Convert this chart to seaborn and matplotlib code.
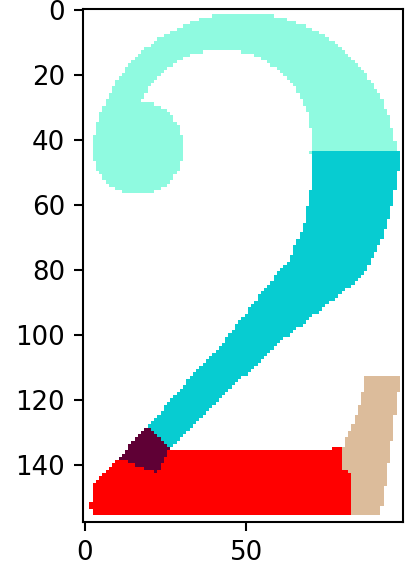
import numpy as np
import matplotlib
matplotlib.use("Agg")
import matplotlib.pyplot as plt
from matplotlib.path import Path
from matplotlib.colors import ListedColormap
import seaborn as sns

# taille de l'image (lignes, colonnes)
nb_lignes, nb_colonnes = 158, 99

# parties du chiffre "2" et leurs couleurs
parties = ["fond", "boucle", "diagonale", "jonction", "base", "pied"]
couleurs = ["#FFFFFF", "#8FFAE0", "#07CCD1", "#5F0035", "#FF0000", "#DCBC9B"]

# boucle du haut : anneau entre deux cercles (cx, cy, r) + bouton a gauche (cx, cy, rx, ry)
cercle_ext = (49.3, 48.3, 47.3)
cercle_int = (42.5, 40.0, 27.7)
limite_boucle = 44.0
bouton = (16.5, 42.5, 14.0, 14.5)

# polygones (colonne, ligne)
diagonale = [(71, 43.5), (70, 55.7), (67.6, 67), (63, 77.4), (56.7, 84.5), (43, 102),
             (33.6, 112), (19.3, 128.5), (26.5, 134.7), (45, 116.7), (60.7, 102),
             (71, 94), (86.6, 81.5), (92, 70.3), (93.5, 66.6), (94.5, 62.5), (95.5, 58),
             (96.5, 53), (97, 50), (97.3, 43.5)]
jonction = [(19.5, 128.0), (26.3, 135.3), (22.4, 142.2), (16, 140.3), (10.8, 138), (14.5, 133)]
base = [(2.4, 155.6), (2.4, 153.5), (1.2, 152.5), (2.4, 151.5), (2.4, 146.5), (9.8, 138.5),
        (11, 137.8), (22.4, 141.8), (26, 135.2), (77, 135.2), (77, 134.2), (80, 134.2),
        (80, 141), (82.3, 143), (82.5, 155.6)]
pied = [(87, 112.3), (97.6, 112.3), (96.5, 121), (93.5, 143), (91.5, 155.6), (82.5, 155.6),
        (82.3, 143), (80, 141), (80, 134.2), (83.5, 126), (86.6, 116)]

ticks_x = [0, 50]
ticks_y = [0, 20, 40, 60, 80, 100, 120, 140]

# Construire l'image des etiquettes
cols, rows = np.meshgrid(np.arange(nb_colonnes), np.arange(nb_lignes))
centres = np.column_stack([cols.ravel(), rows.ravel()])
image = np.zeros((nb_lignes, nb_colonnes), dtype=int)

d_ext = np.hypot(cols - cercle_ext[0], rows - cercle_ext[1])
d_int = np.hypot(cols - cercle_int[0], rows - cercle_int[1])
anneau = (d_ext <= cercle_ext[2]) & (d_int > cercle_int[2]) & (rows <= limite_boucle)
rond = ((cols - bouton[0]) / bouton[2]) ** 2 + ((rows - bouton[1]) / bouton[3]) ** 2 <= 1
image[anneau | rond] = parties.index("boucle")


def remplir(poly, nom):
    masque = Path(poly).contains_points(centres).reshape(nb_lignes, nb_colonnes)
    image[masque] = parties.index(nom)


remplir(diagonale, "diagonale")
remplir(base, "base")
remplir(jonction, "jonction")
remplir(pied, "pied")

# Affichage
palette = sns.color_palette(couleurs)
fig = plt.figure(figsize=(405 / 187, 568 / 187), dpi=187)
ax = fig.add_axes([0.206, 0.0815, 0.789, 0.9035])
ax.imshow(image, cmap=ListedColormap(palette), vmin=-0.5, vmax=len(parties) - 0.5,
          interpolation="nearest", aspect="auto")
ax.set_xticks(ticks_x)
ax.set_yticks(ticks_y)

plt.savefig("out.png", dpi=187)
